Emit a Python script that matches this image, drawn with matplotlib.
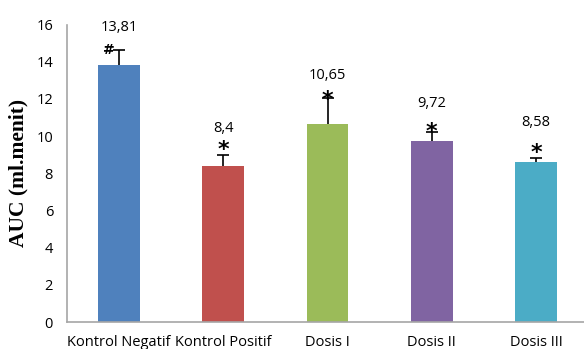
import matplotlib.pyplot as plt

groups = ['Kontrol Negatif', 'Kontrol Positif', 'Dosis I', 'Dosis II', 'Dosis III']
auc = [13.81, 8.40, 10.65, 9.72, 8.58]
sd = [0.80, 0.58, 1.40, 0.50, 0.22]
value_labels = ['13,81', '8,4', '10,65', '9,72', '8,58']
marks = ['#', '*', '*', '*', '*']
colors = ['#4f81bd', '#c0504d', '#9bbb59', '#8064a2', '#4bacc6']

# heights (data units) of the value labels and of the significance marks
label_y = [15.85, 10.43, 13.28, 11.77, 10.75]
mark_y = [14.62, 9.25, 11.94, 10.2, 9.08]

fig = plt.figure(figsize=(5.84, 3.49), dpi=100)
# the original is cropped on the right, so the axes run past the figure edge
ax = fig.add_axes([67 / 584, 27 / 349, 521 / 584, 297.5 / 349])

x = range(len(groups))
ax.bar(x, auc, width=0.4, color=colors, zorder=2)
_, caps, _ = ax.errorbar(x, auc, yerr=[[0] * len(sd), sd], fmt='none',
                         ecolor='black', elinewidth=1.2, capsize=4,
                         capthick=1.2, zorder=3)
caps[0].set_visible(False)  # only the upper cap, like Excel "plus" bars

for i, (lab, m) in enumerate(zip(value_labels, marks)):
    ax.text(i, label_y[i], lab, ha='center', va='center', fontsize=10.5,
            family='Open Sans')
    if m == '#':
        ax.text(i - 0.04, mark_y[i], m, ha='right', va='center',
                fontsize=10, fontweight='bold', family='DejaVu Sans')
    else:
        ax.text(i, mark_y[i], m, ha='center', va='center',
                fontsize=16, fontweight='bold', family='DejaVu Sans')

ax.set_xlim(-0.5, 4.5)
ax.set_ylim(0, 16)
ax.set_yticks(range(0, 17, 2))
ax.set_xticks(list(x))
ax.set_xticklabels(groups, family='Open Sans', fontsize=10.5)
ax.tick_params(axis='x', length=0, labelsize=10.5, pad=9)
ax.tick_params(axis='y', length=0, labelsize=10.5, pad=10)
for lab in ax.get_yticklabels():
    lab.set_family('Open Sans')

ax.set_ylabel('AUC (ml.menit)', family='Liberation Serif', fontweight='bold',
              fontsize=15.5, labelpad=6)

for side in ['top', 'right']:
    ax.spines[side].set_visible(False)
for side in ['left', 'bottom']:
    ax.spines[side].set_color('#a6a6a6')
    ax.spines[side].set_linewidth(1.2)

fig.savefig('out.png', dpi=100)
